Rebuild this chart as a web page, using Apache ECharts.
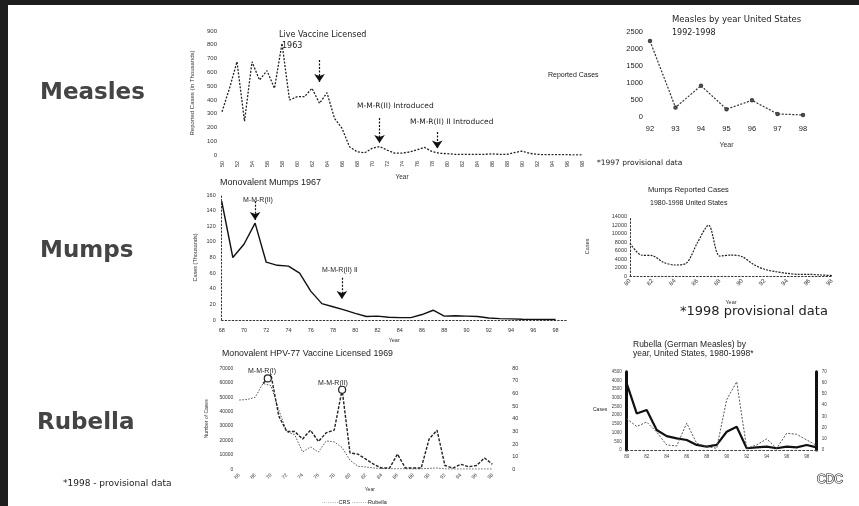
<!DOCTYPE html>
<html>
<head>
<meta charset="utf-8">
<script src="https://cdn.jsdelivr.net/npm/echarts/dist/echarts.min.js"></script>
<style>
html,body{margin:0;padding:0;background:#fff;}
#c{width:859px;height:506px;}
</style>
</head>
<body>
<div id="c"></div>
<script>
// ---------------- DATA ----------------
const measlesYears = [1950,1951,1952,1953,1954,1955,1956,1957,1958,1959,1960,1961,1962,1963,1964,1965,1966,1967,1968,1969,1970,1971,1972,1973,1974,1975,1976,1977,1978,1979,1980,1981,1982,1983,1984,1985,1986,1987,1988,1989,1990,1991,1992,1993,1994,1995,1996,1997,1998];
const measlesCases = [314,484,677,245,677,544,612,484,810,399,423,423,484,375,452,266,194,60,24,15,48,62,36,14,14,22,38,55,25,12,10,5,4,4,5,5,8,5,5,18,28,12,5,2,3,2,2,1,1];

const measles9298Years = [1992,1993,1994,1995,1996,1997,1998];
const measles9298Cases = [2235,280,920,230,490,90,60];

const mumpsYears = [1968,1969,1970,1971,1972,1973,1974,1975,1976,1977,1978,1979,1980,1981,1982,1983,1984,1985,1986,1987,1988,1989,1990,1991,1992,1993,1994,1995,1996,1997,1998];
const mumpsCases = [152,80,97,124,74,70,69,60,37,21,17,13,8.5,4.5,5,3.5,3,3,7,12.5,5,5.5,5,4.5,2.6,1.7,1.5,0.9,0.75,0.7,0.67];

const mumps8098Years = [1980,1981,1982,1983,1984,1985,1986,1987,1988,1989,1990,1991,1992,1993,1994,1995,1996,1997,1998];
const mumps8098Cases = [7700,4950,4800,3200,2600,3000,7800,12000,4700,4950,4560,2750,1570,1020,630,390,390,240,100];

const rubellaYears = [1966,1967,1968,1969,1970,1971,1972,1973,1974,1975,1976,1977,1978,1979,1980,1981,1982,1983,1984,1985,1986,1987,1988,1989,1990,1991,1992,1993,1994,1995,1996,1997,1998];
const rubellaCases = [48000,48400,49800,59500,58000,41000,26000,24000,12000,15500,12000,19700,19000,15000,6300,2100,1600,900,500,400,400,300,250,350,700,900,300,200,200,200,200,200,200];
const crsYears = [1969,1970,1971,1972,1973,1974,1975,1976,1977,1978,1979,1980,1981,1982,1983,1984,1985,1986,1987,1988,1989,1990,1991,1992,1993,1994,1995,1996,1997,1998];
const crsCases = [68,75,42,30,30,24,31,22,29,31,63,13,12,8,4,1,1,12,1,1,1,24,31,3,1,4,2,3,9,4];

const rub8099Years = [1980,1981,1982,1983,1984,1985,1986,1987,1988,1989,1990,1991,1992,1993,1994,1995,1996,1997,1998,1999];
const rub8099Cases = [3830,2100,2300,1150,800,670,575,290,190,290,1050,1340,100,150,190,100,190,150,290,150];
const crs8099Cases = [28,21,25,16,4.5,3.6,24,6,3,1.5,45,61,1.5,4.5,10,1.5,15,14,9,4];

// ---------------- HELPERS ----------------
const pairs = (xs, ys) => xs.map((x, i) => [x, ys[i]]);
const FONT = 'Liberation Sans, Arial, sans-serif';
const DJ = 'DejaVu Sans, sans-serif';
const yy = v => (v % 2 ? '' : String(v).slice(2));
const yy1 = v => String(v).slice(2);
const plain = v => String(v);
const hide = {show:false};
function txt(x, y, text, size, opts) {
  opts = opts || {};
  return {type:'text', x:x, y:y, silent:true, style:Object.assign({
    text:text, fontSize:size, fontFamily:opts.family || FONT, fontWeight:opts.weight || 'normal',
    fill:opts.fill || '#222', verticalAlign:'middle', align:opts.align || 'left'
  }, opts.style || {})};
}
const dotted = {show:true, lineStyle:{color:'#333', width:1, type:[1.5,2]}};

const chart = echarts.init(document.getElementById('c'), null, {renderer:'canvas'});

const option = {
  animation:false,
  backgroundColor:'#fff',
  textStyle:{fontFamily:FONT, color:'#222'},
  grid:[
    {left:222, top:31, width:360, height:124},
    {left:650, top:32, width:153, height:85},
    {left:221.7, top:195, width:345, height:125},
    {left:630, top:216.7, width:202, height:59.3},
    {left:239.3, top:368.3, width:261, height:101},
    {left:626.7, top:371.7, width:190, height:78.3}
  ],
  xAxis:[
    {gridIndex:0, type:'value', min:1950, max:1998, interval:2, axisLine:hide, axisTick:hide, splitLine:hide,
     axisLabel:{fontSize:5.5, rotate:90, margin:6, formatter:yy1, color:'#333'},
     name:'Year', nameLocation:'middle', nameGap:19, nameTextStyle:{fontSize:6.5, color:'#333'}},
    {gridIndex:1, type:'value', min:1992, max:1998, interval:1, axisLine:hide, axisTick:hide, splitLine:hide,
     axisLabel:{fontSize:7.5, margin:8, formatter:yy1, color:'#222'},
     name:'Year', nameLocation:'middle', nameGap:25, nameTextStyle:{fontSize:7, color:'#333'}},
    {gridIndex:2, type:'value', min:1968, max:1999, interval:2, axisLine:dotted, axisTick:hide, splitLine:hide,
     axisLabel:{fontSize:5.5, margin:7, formatter:yy, color:'#333'},
     name:'Year', nameLocation:'middle', nameGap:17, nameTextStyle:{fontSize:5.5, color:'#333'}},
    {gridIndex:3, type:'value', min:1980, max:1998, interval:2, axisLine:dotted, axisTick:hide, splitLine:hide,
     axisLabel:{fontSize:6, rotate:45, margin:4, formatter:yy1, color:'#333'},
     name:'Year', nameLocation:'middle', nameGap:23, nameTextStyle:{fontSize:5.5, color:'#333'}},
    {gridIndex:4, type:'value', min:1966, max:1999, interval:2, axisLine:hide, axisTick:hide, splitLine:hide,
     axisLabel:{fontSize:5, rotate:45, margin:5, formatter:yy, color:'#333'},
     name:'Year', nameLocation:'middle', nameGap:18, nameTextStyle:{fontSize:5, color:'#333'}},
    {gridIndex:5, type:'value', min:1980, max:1999, interval:2, axisLine:{show:true, lineStyle:{color:'#444', width:1, type:[2,2]}}, axisTick:hide, splitLine:hide,
     axisLabel:{fontSize:4.5, margin:4, formatter:yy, color:'#444'}}
  ],
  yAxis:[
    {gridIndex:0, type:'value', min:0, max:900, interval:100, axisLine:hide, axisTick:hide, splitLine:hide,
     axisLabel:{fontSize:6, margin:5, color:'#333', formatter:plain},
     name:'Reported Cases (in Thousands)', nameLocation:'middle', nameGap:27, nameTextStyle:{fontSize:6, color:'#333'}},
    {gridIndex:1, type:'value', min:0, max:2500, interval:500, axisLine:hide, axisTick:hide, splitLine:hide,
     axisLabel:{fontSize:7.5, margin:7, color:'#222', formatter:plain}},
    {gridIndex:2, type:'value', min:0, max:160, interval:20, axisLine:dotted, axisTick:hide, splitLine:hide,
     axisLabel:{fontSize:5.5, margin:6, color:'#333', formatter:plain},
     name:'Cases (Thousands)', nameLocation:'middle', nameGap:23, nameTextStyle:{fontSize:5.5, color:'#333'}},
    {gridIndex:3, type:'value', min:0, max:14000, interval:2000, axisLine:dotted, axisTick:hide, splitLine:hide,
     axisLabel:{fontSize:5.5, margin:3, color:'#333', formatter:plain},
     name:'Cases', nameLocation:'middle', nameGap:40, nameTextStyle:{fontSize:5.5, color:'#333'}},
    {gridIndex:4, type:'value', min:0, max:70000, interval:10000, axisLine:hide, axisTick:hide, splitLine:hide,
     axisLabel:{fontSize:5, margin:6, color:'#333', formatter:plain},
     name:'Number of Cases', nameLocation:'middle', nameGap:30, nameTextStyle:{fontSize:5, color:'#333'}},
    {gridIndex:4, type:'value', position:'right', min:0, max:80, interval:10, axisLine:hide, axisTick:hide, splitLine:hide,
     axisLabel:{fontSize:5.5, margin:12, color:'#333', formatter:plain}},
    {gridIndex:5, type:'value', min:0, max:4500, interval:500, axisLine:{show:true, lineStyle:{color:'#111', width:3}}, axisTick:hide, splitLine:hide,
     axisLabel:{fontSize:4.5, margin:5, color:'#444', formatter:plain}},
    {gridIndex:5, type:'value', position:'right', min:0, max:70, interval:10, axisLine:{show:true, lineStyle:{color:'#111', width:3}}, axisTick:hide, splitLine:hide,
     axisLabel:{fontSize:4.5, margin:5, color:'#444', formatter:plain}}
  ],
  series:[
    {type:'line', name:'Measles', xAxisIndex:0, yAxisIndex:0, data:pairs(measlesYears, measlesCases),
     showSymbol:false, lineStyle:{color:'#222', width:1.3, type:[2,1.5]},
     markLine:{silent:true, symbol:['none','arrow'], symbolSize:8, label:hide,
       lineStyle:{color:'#111', width:1.2, type:[2,1.5]},
       data:[
         [{coord:[1963,690]},{coord:[1963,530]}],
         [{coord:[1971,268]},{coord:[1971,88]}],
         [{coord:[1978.7,167]},{coord:[1978.7,48]}]
       ]}},
    {type:'line', name:'Measles 1992-1998', xAxisIndex:1, yAxisIndex:1, data:pairs(measles9298Years, measles9298Cases),
     symbol:'emptyCircle', symbolSize:2.5, itemStyle:{color:'#444', borderWidth:0.8}, lineStyle:{color:'#333', width:1.2, type:[2,1.5]}},
    {type:'line', name:'Mumps', xAxisIndex:2, yAxisIndex:2, data:pairs(mumpsYears, mumpsCases),
     showSymbol:false, lineStyle:{color:'#111', width:1.4},
     markLine:{silent:true, symbol:['none','arrow'], symbolSize:8, label:hide,
       lineStyle:{color:'#111', width:1.2, type:[2,1.5]},
       data:[
         [{coord:[1971,152]},{coord:[1971,128]}],
         [{coord:[1978.8,54]},{coord:[1978.8,27]}]
       ]}},
    {type:'line', name:'Mumps 1980-1998', xAxisIndex:3, yAxisIndex:3, data:pairs(mumps8098Years, mumps8098Cases),
     showSymbol:false, smooth:0.3, lineStyle:{color:'#222', width:1.2, type:[2,1.2]}},
    {type:'line', name:'Rubella', xAxisIndex:4, yAxisIndex:4, data:pairs(rubellaYears, rubellaCases),
     showSymbol:false, lineStyle:{color:'#555', width:1, type:[1.5,1.5]}},
    {type:'line', name:'CRS', xAxisIndex:4, yAxisIndex:5, data:pairs(crsYears, crsCases),
     showSymbol:false, lineStyle:{color:'#222', width:1.4, type:[3,1.5]},
     markPoint:{silent:true, symbol:'circle', symbolSize:7, label:hide,
       itemStyle:{color:'#fff', borderColor:'#222', borderWidth:1.2},
       data:[{coord:[1969.6,72]},{coord:[1979,63]}]}},
    {type:'line', name:'Rubella 1980-1999', xAxisIndex:5, yAxisIndex:6, data:pairs(rub8099Years, rub8099Cases),
     showSymbol:false, lineStyle:{color:'#111', width:2.2}},
    {type:'line', name:'CRS 1980-1999', xAxisIndex:5, yAxisIndex:7, data:pairs(rub8099Years, crs8099Cases),
     showSymbol:false, lineStyle:{color:'#555', width:1, type:[2,1.5]}}
  ],
  graphic:[
    {type:'rect', silent:true, shape:{x:0, y:0, width:8, height:506}, style:{fill:'#1e1e1e'}},
    {type:'rect', silent:true, shape:{x:0, y:0, width:859, height:5}, style:{fill:'#1e1e1e'}},
    txt(40, 93, 'Measles', 23, {family:DJ, weight:'bold', fill:'#444'}),
    txt(40, 251, 'Mumps', 23, {family:DJ, weight:'bold', fill:'#444'}),
    txt(37, 423, 'Rubella', 23, {family:DJ, weight:'bold', fill:'#444'}),
    txt(63, 484, '*1998 - provisional data', 9, {family:DJ}),
    txt(817, 480, 'CDC', 12, {fill:'#fff', style:{stroke:'#222', lineWidth:1.2}}),
    // Measles main
    txt(279, 35, 'Live Vaccine Licensed', 8, {family:DJ}),
    txt(282, 46, '1963', 8, {family:DJ}),
    txt(357, 106, 'M-M-R(II) Introduced', 7.5, {family:DJ}),
    txt(410, 122, 'M-M-R(II) II Introduced', 7.5, {family:DJ}),
    // Measles 1992-98
    txt(672, 20, 'Measles by year United States', 8.5, {family:DJ}),
    txt(672, 33, '1992-1998', 8, {family:DJ}),
    txt(548, 75, 'Reported Cases', 7, {}),
    txt(597, 163, '*1997 provisional data', 7.5, {family:DJ}),
    // Mumps main
    txt(220, 183, 'Monovalent Mumps 1967', 9, {}),
    txt(243, 200, 'M-M-R(II)', 7, {}),
    txt(322, 270, 'M-M-R(II) II', 7, {}),
    // Mumps 1980-98
    txt(648, 190, 'Mumps Reported Cases', 7.5, {}),
    txt(650, 203, '1980-1998 United States', 7, {}),
    txt(680, 312, '*1998 provisional data', 13, {family:DJ}),
    // Rubella main
    txt(222, 354, 'Monovalent HPV-77 Vaccine Licensed 1969', 8.8, {}),
    txt(248, 371, 'M-M-R(I)', 7, {}),
    txt(318, 383, 'M-M-R(II)', 7, {}),
    txt(322, 502, '·········CRS ·········Rubella', 5.5, {}),
    // Rubella 1980-98
    txt(633, 345, 'Rubella (German Measles) by', 8.5, {}),
    txt(633, 354, 'year, United States, 1980-1998*', 8.5, {}),
    txt(593, 410, 'Cases', 5, {})
  ]
};
chart.setOption(option);
</script>
</body>
</html>
